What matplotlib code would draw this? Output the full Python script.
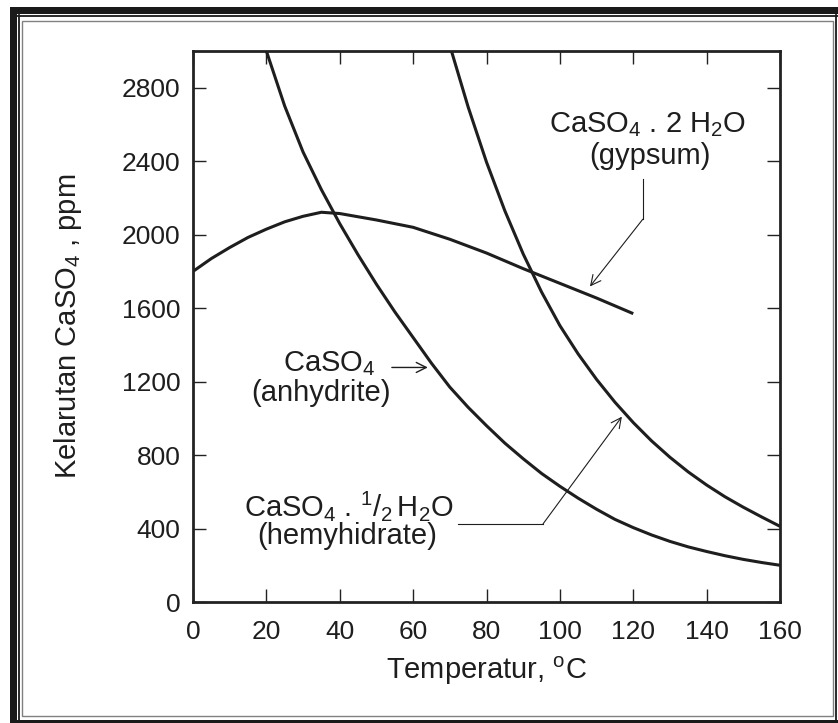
import matplotlib
matplotlib.use("Agg")
import matplotlib.pyplot as plt
from matplotlib.patches import Rectangle
from matplotlib.lines import Line2D

plt.rcParams['font.family'] = ['Liberation Sans', 'DejaVu Sans']
plt.rcParams['mathtext.fontset'] = 'custom'
plt.rcParams['mathtext.rm'] = 'Liberation Sans'
plt.rcParams['mathtext.it'] = 'Liberation Sans:italic'
plt.rcParams['mathtext.bf'] = 'Liberation Sans:bold'
plt.rcParams['mathtext.default'] = 'regular'

# ---- data ----
gypsum_t = [0, 5, 10, 15, 20, 25, 30, 35, 40, 50, 60, 70, 80, 90, 100, 110, 120]
gypsum_ppm = [1800, 1870, 1930, 1985, 2030, 2070, 2100, 2122, 2115, 2080, 2040,
              1975, 1900, 1815, 1735, 1655, 1570]

anhydrite_t = [20, 25, 30, 35, 40, 45, 50, 55, 60, 65, 70, 75, 80, 85, 90, 95,
               100, 105, 110, 115, 120, 125, 130, 135, 140, 145, 150, 155, 160]
anhydrite_ppm = [3000, 2700, 2450, 2245, 2060, 1890, 1730, 1580, 1440, 1300, 1170,
                 1060, 960, 865, 780, 700, 630, 565, 505, 450, 405, 365, 330, 300,
                 275, 252, 232, 215, 200]

hemihydrate_t = [70, 75, 80, 85, 90, 95, 100, 105, 110, 115, 120, 125, 130, 135,
                 140, 145, 150, 155, 160]
hemihydrate_ppm = [3030, 2695, 2395, 2130, 1895, 1688, 1505, 1350, 1212, 1088, 977,
                   877, 788, 708, 637, 573, 516, 463, 412]

x_ticks = [0, 20, 40, 60, 80, 100, 120, 140, 160]
y_ticks = [0, 400, 800, 1200, 1600, 2000, 2400, 2800]

W, H = 838, 723
fig = plt.figure(figsize=(W / 100, H / 100), dpi=100)
fig.patch.set_facecolor('white')

ax = fig.add_axes([193 / W, 1 - 602 / H, (780 - 193) / W, (602 - 51) / H])
ax.set_facecolor('none')

ink = '#1e1e1e'
lw_curve = 2.2
ax.plot(gypsum_t, gypsum_ppm, color=ink, lw=lw_curve, solid_capstyle='butt',
        solid_joinstyle='round')
ax.plot(anhydrite_t, anhydrite_ppm, color=ink, lw=lw_curve, solid_capstyle='butt',
        solid_joinstyle='round')
ax.plot(hemihydrate_t, hemihydrate_ppm, color=ink, lw=lw_curve, solid_capstyle='butt',
        solid_joinstyle='round')

ax.set_xlim(0, 160)
ax.set_ylim(0, 3000)
ax.set_xticks(x_ticks)
ax.set_yticks(y_ticks)
ax.set_xticklabels([str(v) for v in x_ticks])
ax.set_yticklabels([str(v) for v in y_ticks])

for s in ax.spines.values():
    s.set_linewidth(2.0)
    s.set_color('#222222')

ax.tick_params(axis='both', which='major', direction='in', length=9.5, width=1.0,
               color='#222222', top=True, right=True, labelsize=19,
               labelcolor=ink)
ax.tick_params(axis='x', pad=13)
ax.tick_params(axis='y', pad=9)

ax.set_xlabel(r'Temperatur, $^{o}$C', fontsize=21, color=ink)
ax.set_ylabel(r'Kelarutan CaSO$_4$ , ppm', fontsize=21, color=ink)
ax.xaxis.set_label_coords(0.5, -0.095)
ax.yaxis.set_label_coords(-0.186, 0.5)

fs = 21
# gypsum label
ax.text(124.0, 2600, r'CaSO$_4$ . 2 H$_2$O', fontsize=fs, color=ink,
        ha='center', va='center')
ax.text(124.6, 2430, '(gypsum)', fontsize=fs, color=ink, ha='center', va='center')
ax.plot([122.6, 122.6], [2302, 2084], color=ink, lw=0.8)
ax.annotate('', xy=(108.2, 1718), xytext=(122.6, 2084),
            arrowprops=dict(arrowstyle='->', color=ink, lw=0.8,
                            mutation_scale=18, shrinkA=0, shrinkB=0))

# anhydrite label
ax.text(37.0, 1300, r'CaSO$_4$', fontsize=fs, color=ink, ha='center', va='center')
ax.text(34.9, 1140, '(anhydrite)', fontsize=fs, color=ink, ha='center', va='center')
ax.annotate('', xy=(64.0, 1277), xytext=(54.2, 1277),
            arrowprops=dict(arrowstyle='->', color=ink, lw=1.0,
                            mutation_scale=18, shrinkA=0, shrinkB=0))

# hemihydrate label
ax.text(42.4, 520, r'CaSO$_4$ . $^1/_2\,$H$_2$O', fontsize=fs, color=ink,
        ha='center', va='center')
ax.text(42.1, 362, '(hemyhidrate)', fontsize=fs, color=ink, ha='center', va='center')
ax.plot([72.2, 95.4], [425, 425], color=ink, lw=0.8)
ax.annotate('', xy=(116.9, 1009), xytext=(95.4, 425),
            arrowprops=dict(arrowstyle='->', color=ink, lw=0.8,
                            mutation_scale=18, shrinkA=0, shrinkB=0))

# ---- figure frame (pixel coordinates from top-left) ----
def fx(px):
    return px / W

def fy(py):
    return 1 - py / H

tr = fig.transFigure
# thick left and top bars
fig.add_artist(Rectangle((fx(10), fy(723)), fx(6.5), (723 - 7) / H,
                         transform=tr, color='#1a1a1a', lw=0))
fig.add_artist(Rectangle((fx(10), fy(13.5)), fx(828), 6.5 / H,
                         transform=tr, color='#1a1a1a', lw=0))
# bottom bar
fig.add_artist(Rectangle((fx(16), fy(723)), fx(822), 3.5 / H,
                         transform=tr, color='#1a1a1a', lw=0))
# thin black lines
fig.add_artist(Line2D([fx(16), fx(838)], [fy(15.8), fy(15.8)], transform=tr,
                      color='#1a1a1a', lw=1.3))
fig.add_artist(Line2D([fx(18.6), fx(18.6)], [fy(15), fy(723)], transform=tr,
                      color='#1a1a1a', lw=1.3))
fig.add_artist(Line2D([fx(836), fx(836)], [fy(15), fy(723)], transform=tr,
                      color='#1a1a1a', lw=1.3))
# inner gray rectangle
fig.add_artist(Rectangle((fx(21.5), fy(716)), fx(833 - 21.5), (716 - 20.5) / H,
                         transform=tr, fill=False, edgecolor='#808080', lw=1.0))

fig.savefig('out.png', dpi=100, facecolor='white')
